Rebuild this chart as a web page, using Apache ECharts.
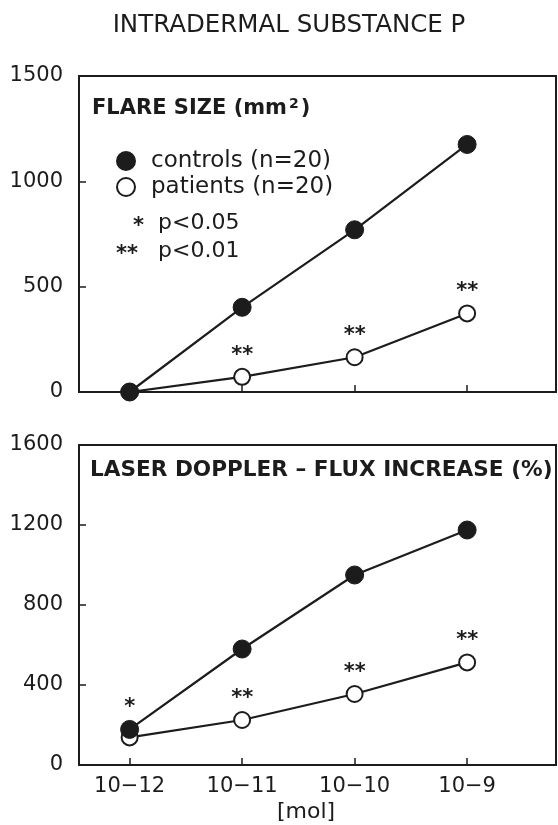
<!DOCTYPE html>
<html>
<head>
<meta charset="utf-8">
<script src="https://cdn.jsdelivr.net/npm/echarts@6/dist/echarts.min.js"></script>
<style>html,body{margin:0;padding:0;background:#fff}#c{width:558px;height:825px}</style>
</head>
<body>
<div id="c"></div>
<script>
// ---- data ----
const categories = ['10\u221212', '10\u221211', '10\u221210', '10\u22129'];
const flareControls = [0, 402, 770, 1175];
const flarePatients = [0, 72, 165, 373];
const fluxControls = [178, 580, 950, 1175];
const fluxPatients = [138, 225, 355, 513];
const sigFlareControls = ['', '', '', ''];
const sigFlarePatients = ['', '**', '**', '**'];
const sigFluxControls = ['*', '', '', ''];
const sigFluxPatients = ['', '**', '**', '**'];
const flareTicks = [0, 500, 1000, 1500];
const fluxTicks = [0, 400, 800, 1200, 1600];

const INK = '#1c1c1c';
const FONT = 'DejaVu Sans';
const pts = arr => arr.map((v, i) => [i, v]);
const catIdx = categories.map((c, i) => i);

function xAxis(gridIndex, showLabels) {
  return {
    type: 'value', gridIndex, min: -0.45, max: 3.79,
    axisLine: { show: true, onZero: false, lineStyle: { color: INK, width: 2 } },
    axisTick: { show: true, inside: true, length: 7, lineStyle: { color: INK, width: 1.5 }, customValues: catIdx },
    axisLabel: { show: showLabels, customValues: catIdx, formatter: v => categories[Math.round(v)],
      color: INK, fontFamily: FONT, fontSize: 21, margin: 11 },
    splitLine: { show: false }
  };
}
function yAxis(gridIndex, ticks) {
  return {
    type: 'value', gridIndex, min: ticks[0], max: ticks[ticks.length - 1],
    interval: ticks[1] - ticks[0],
    axisLine: { show: true, onZero: false, lineStyle: { color: INK, width: 2 } },
    axisTick: { show: true, inside: true, length: 7, lineStyle: { color: INK, width: 1.5 } },
    axisLabel: { color: INK, fontFamily: FONT, fontSize: 21, margin: 16, formatter: v => String(v) },
    splitLine: { show: false }
  };
}
function sigLabel(sig) {
  return {
    show: true, position: 'top', distance: 2,
    formatter: p => sig[p.dataIndex],
    color: INK, fontFamily: FONT, fontWeight: 'bold', fontSize: 21
  };
}
function controls(name, data, idx, sig) {
  return {
    name, type: 'line', xAxisIndex: idx, yAxisIndex: idx, data: pts(data), z: 4,
    symbol: 'circle', symbolSize: 18,
    lineStyle: { color: INK, width: 2.2 },
    itemStyle: { color: INK, borderColor: INK, borderWidth: 1, opacity: 1 },
    label: sigLabel(sig)
  };
}
function patients(name, data, idx, sig) {
  return {
    name, type: 'line', xAxisIndex: idx, yAxisIndex: idx, data: pts(data), z: 3,
    symbol: 'circle', symbolSize: 16,
    lineStyle: { color: INK, width: 2.2 },
    itemStyle: { color: '#fff', borderColor: INK, borderWidth: 2, opacity: 1 },
    label: sigLabel(sig)
  };
}

const chart = echarts.init(document.getElementById('c'), null, { renderer: 'canvas' });
chart.setOption({
  animation: false,
  backgroundColor: '#fff',
  title: {
    text: 'INTRADERMAL SUBSTANCE P', left: 284, top: 8, textAlign: 'center',
    textStyle: { color: INK, fontFamily: FONT, fontSize: 24.5, fontWeight: 'normal' }
  },
  grid: [
    { left: 79, top: 76, width: 477, height: 316, show: true, borderColor: INK, borderWidth: 2, backgroundColor: 'transparent' },
    { left: 79, top: 445, width: 477, height: 320, show: true, borderColor: INK, borderWidth: 2, backgroundColor: 'transparent' }
  ],
  xAxis: [xAxis(0, false), xAxis(1, true)],
  yAxis: [yAxis(0, flareTicks), yAxis(1, fluxTicks)],
  legend: {
    data: ['controls (n=20)', 'patients (n=20)'],
    orient: 'vertical', left: 116, top: 148, itemGap: 0, padding: 0,
    itemWidth: 18, itemHeight: 18, icon: 'circle',
    textStyle: { color: INK, fontFamily: FONT, fontSize: 23, lineHeight: 26, padding: [0, 0, 0, 11] },
    selectedMode: false
  },
  graphic: [
    { type: 'text', left: 92, top: 97, style: {
        text: 'FLARE SIZE (mm{sup|2})', fill: INK, font: 'bold 21px "DejaVu Sans"',
        rich: { sup: { fontSize: 14, fontWeight: 'bold', fontFamily: FONT, verticalAlign: 'top', padding: [0, 2, 10, 2] } } } },
    { type: 'text', left: 90, top: 459, style: { text: 'LASER DOPPLER \u2013 FLUX INCREASE (%)', fill: INK, font: 'bold 21.6px "DejaVu Sans"' } },
    { type: 'text', left: 133, top: 216, style: { text: '*', fill: INK, font: 'bold 21px "DejaVu Sans"' } },
    { type: 'text', left: 158, top: 212, style: { text: 'p<0.05', fill: INK, font: '22px "DejaVu Sans"' } },
    { type: 'text', left: 116, top: 244, style: { text: '**', fill: INK, font: 'bold 21px "DejaVu Sans"' } },
    { type: 'text', left: 158, top: 240, style: { text: 'p<0.01', fill: INK, font: '22px "DejaVu Sans"' } },
    { type: 'text', left: 277, top: 801, style: { text: '[mol]', fill: INK, font: '22px "DejaVu Sans"' } }
  ],
  series: [
    controls('controls (n=20)', flareControls, 0, sigFlareControls),
    patients('patients (n=20)', flarePatients, 0, sigFlarePatients),
    controls('controls (n=20)', fluxControls, 1, sigFluxControls),
    patients('patients (n=20)', fluxPatients, 1, sigFluxPatients)
  ]
});
</script>
</body>
</html>
